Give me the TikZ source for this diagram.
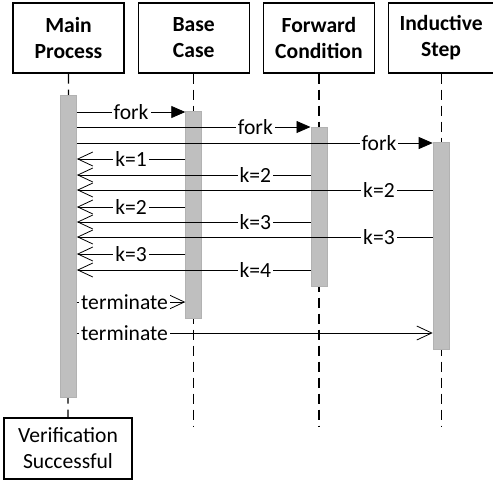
\documentclass[tikz,border=0pt]{standalone}
\usepackage{fontspec}
\setmainfont{Carlito}
\usetikzlibrary{arrows.meta,positioning}

\begin{document}
\begin{tikzpicture}[
        x=0.5pt, y=-0.5pt,
        node distance=6.5pt and 6.5pt,
        font=\fontsize{10.8}{13}\selectfont,
        actor/.style={draw, line width=0.6pt, align=center, minimum width=55.5pt, minimum height=35pt, font=\fontsize{10.8}{13}\selectfont\bfseries},
        bar/.style={draw=black!30, fill=black!25, minimum width=8pt, inner sep=0pt, anchor=north},
        life/.style={dash pattern=on 5pt off 3pt, line width=0.6pt},
        msg/.style={fill=white, inner sep=1pt},
        call/.style={-{Triangle[length=7pt,width=6pt]}},
        reply/.style={-{Straight Barb[length=7.5pt,width=7pt]}}
    ]
  \useasboundingbox (0,0) rectangle (493,484);

  % Nodes
  \node[actor] (main) at (68.5,38) {Main\\Process};
  \node[actor] (base) [right=of main] {Base\\Case};
  \node[actor] (fwd) [right=of base] {Forward\\Condition};
  \node[actor, minimum width=52.5pt] (ind) [right=of fwd] {Inductive\\Step};
  \node[draw, line width=0.6pt, align=center, minimum width=64pt, minimum height=30.5pt] (done) at (68,448.5) {Verification\\Successful};

  % Lifelines
  \draw[life] (main) -- (done);
  \foreach \n in {base,fwd,ind}
    \draw[life] (\n) -- (\n |- 0,427);

  % Activations
  \node[bar, minimum height=151pt] (mainbar) at (main |- 0,95) {};
  \node[bar, minimum height=103.5pt] (basebar) at (base |- 0,111) {};
  \node[bar, minimum height=79.5pt] (fwdbar) at (fwd |- 0,127) {};
  \node[bar, minimum height=103.5pt] (indbar) at (ind |- 0,142) {};

  % Messages
  \draw[call] (mainbar.east |- 0,112) -- node[msg] {fork} (basebar.west |- 0,112);
  \draw[call] (mainbar.east |- 0,127) -- node[msg, pos=.764] {fork} (fwdbar.west |- 0,127);
  \draw[call] (mainbar.east |- 0,143) -- node[msg, pos=.849] {fork} (indbar.west |- 0,143);

  \foreach \src/\y/\k/\p in {basebar/159/1/.5, fwdbar/175/2/.236, indbar/190/2/.151,
      basebar/207/2/.5, fwdbar/222/3/.236, indbar/237/3/.151,
      basebar/254/3/.5, fwdbar/270/4/.236}
    \draw[reply] (\src.west |- 0,\y) -- node[msg, pos=\p] {k=\k} (mainbar.east |- 0,\y);

  \draw[reply] (mainbar.east |- 0,302) -- node[msg, pos=.44] {terminate} (basebar.west |- 0,302);
  \draw[reply] (mainbar.east |- 0,333) -- node[msg, pos=.134] {terminate} (indbar.west |- 0,333);
\end{tikzpicture}
\end{document}
